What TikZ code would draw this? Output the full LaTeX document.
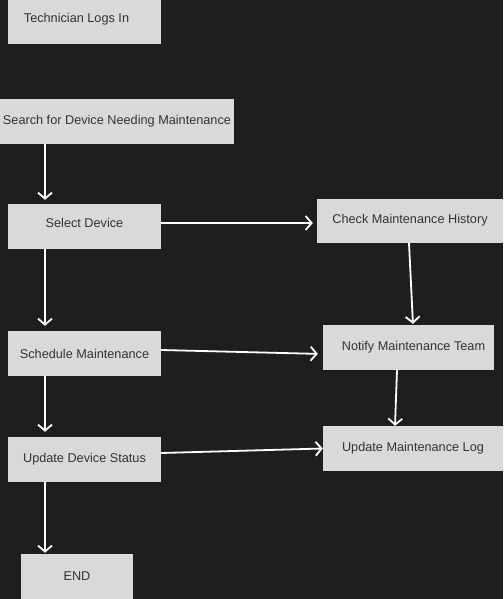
\documentclass[tikz,border=0pt]{standalone}
\usepackage{fontspec}
\setmainfont{Liberation Sans}
\usetikzlibrary{arrows.meta}
\definecolor{canvas}{HTML}{1E1E1E}
\definecolor{boxgray}{HTML}{D9D9D9}
\definecolor{inkgray}{HTML}{333333}
\tikzset{
    stepbox/.style={fill=boxgray, text=inkgray, inner sep=0pt,
        minimum height=45pt, font=\fontsize{12.7}{14}\selectfont},
    flow/.style={draw=white, line width=1.8pt,
        -{Straight Barb[length=6pt,width=14pt,line width=1.8pt]}},
}
\begin{document}
\begin{tikzpicture}[x=1pt, y=-1pt]
    \fill[canvas] (0,0) rectangle (503,599);
    \useasboundingbox (0,0) rectangle (503,599);
    \coordinate (spine) at (45,0);
    \node[stepbox, minimum width=153pt] (tech) at (84.5,22) {\raisebox{8pt}{Technician Logs In}\hspace*{16pt}};
    \node[stepbox, minimum width=234pt] (search) at (117,121.5) {Search for Device Needing Maintenance};
    \node[stepbox, minimum width=153pt] (select) at (84.5,226.5) {\raisebox{8pt}{Select Device}};
    \node[stepbox, minimum width=186pt, minimum height=44pt] (history) at (410,221) {\raisebox{4pt}{Check Maintenance History}};
    \node[stepbox, minimum width=171pt] (notify) at (408.5,347.5) {\hspace*{10pt}\raisebox{-4pt}{Notify Maintenance Team}};
    \node[stepbox, minimum width=153pt] (schedule) at (84.5,353.5) {\raisebox{-4pt}{Schedule Maintenance}};
    \node[stepbox, minimum width=153pt] (status) at (84.5,459.5) {Update Device Status};
    \node[stepbox, minimum width=180pt] (log) at (413,448.5) {Update Maintenance Log};
    \node[stepbox, minimum width=112pt] (finish) at (77,576.5) {END};
    \draw[flow, shorten >=4pt] (search.south -| spine) -- (select.north -| spine);
    \draw[flow, shorten >=5pt] (select.south -| spine) -- (schedule.north -| spine);
    \draw[flow, shorten >=5pt] (schedule.south -| spine) -- (status.north -| spine);
    \draw[flow, shorten >=1pt] (status.south -| spine) -- (finish.north -| spine);
    \draw[flow, shorten >=4pt] ([yshift=3.5pt]select.east) -- ([yshift=-2pt]history.west);
    \draw[flow, shorten >=1pt] ([xshift=-1pt]history.south) -- ([xshift=4.5pt]notify.north);
    \draw[flow, shorten >=5pt] ([yshift=3.5pt]schedule.east) -- ([yshift=-6.5pt]notify.west);
    \draw[flow] ([xshift=-11.5pt]notify.south) -- ([xshift=-18pt]log.north);
    \draw[flow] ([yshift=6.5pt]status.east) -- (log.west);
\end{tikzpicture}
\end{document}
